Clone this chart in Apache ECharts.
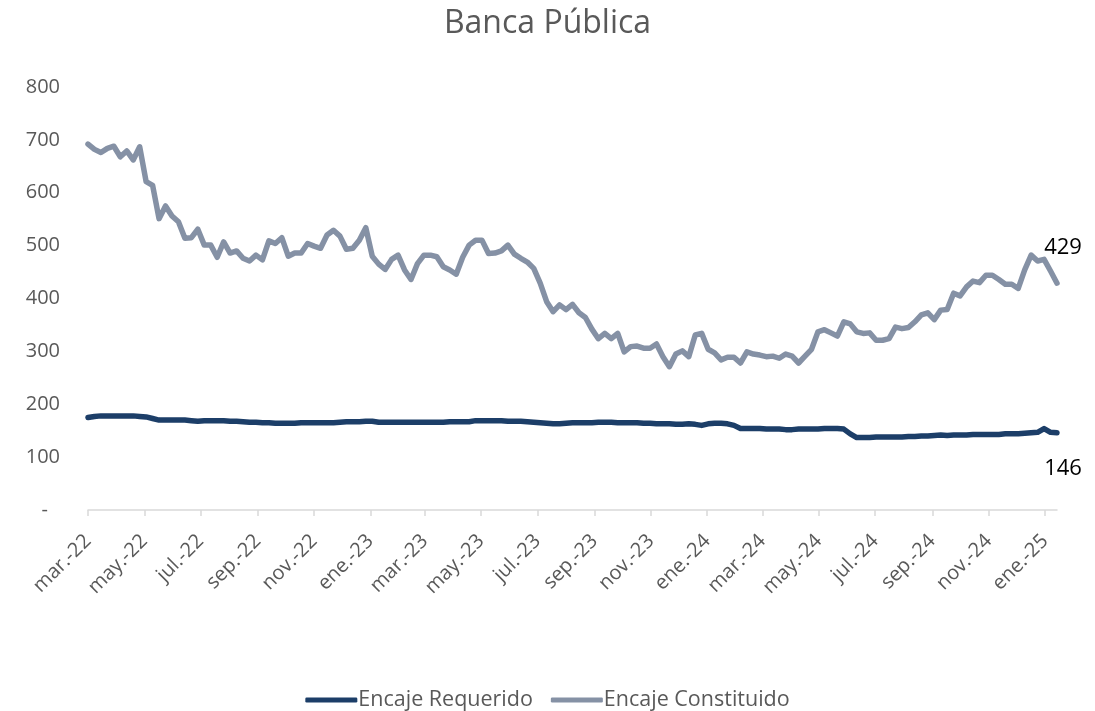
<!DOCTYPE html>
<html>
<head>
<meta charset="utf-8">
<script src="https://cdn.jsdelivr.net/npm/echarts@6/dist/echarts.min.js"></script>
<style>
  html, body { margin: 0; padding: 0; background: #ffffff; }
  #chart { width: 1095px; height: 711px; }
</style>
</head>
<body>
<div id="chart"></div>
<script>
// ---- Data ----
const titleText = 'Banca Pública';
const seriesNames = ['Encaje Requerido', 'Encaje Constituido'];
const startDate = '2022-03-01';   // first weekly observation
const weekCount = 151;            // weekly observations

const encajeRequerido = [
  175,177,178,178,178,178,178,178,177,176,
  173,170,170,170,170,170,169,168,169,169,
  169,169,168,168,167,166,166,165,165,164,
  164,164,164,165,165,165,165,165,165,166,
  167,167,167,168,168,166,166,166,166,166,
  166,166,166,166,166,166,167,167,167,167,
  169,169,169,169,169,168,168,168,167,166,
  165,164,163,163,164,165,165,165,165,166,
  166,166,165,165,165,165,164,164,163,163,
  163,162,162,163,162,160,163,164,164,163,
  160,154,154,154,154,153,153,153,152,152,
  153,153,153,153,154,154,154,153,144,137,
  137,137,138,138,138,138,138,139,139,140,
  140,141,142,141,142,142,142,143,143,143,
  143,143,144,144,144,145,146,147,154,147,
  146
];

const encajeConstituido = [
  692,682,676,684,688,668,679,662,687,621,
  614,551,575,556,545,514,515,531,501,501,
  478,507,486,490,476,471,482,473,509,504,
  515,480,486,486,504,499,495,520,529,518,
  493,495,510,534,480,465,
  455,474,482,454,436,466,482,482,479,460,
  454,446,478,501,510,510,485,486,490,501,
  484,476,469,457,429,394,375,388,379,389,
  373,364,342,324,334,324,334,299,309,310,
  306,306,314,
  290,271,295,301,290,331,334,304,297,284,
  289,289,278,299,295,293,290,291,287,295,
  291,278,291,304,
  337,341,335,329,356,352,337,334,335,321,
  321,324,346,343,345,356,369,373,360,378,
  379,410,405,422,433,430,444,444,436,427,
  427,419,454,482,471,474,452,429
];

const tickLabels = ['mar.-22','may.-22','jul.-22','sep.-22','nov.-22','ene.-23',
  'mar.-23','may.-23','jul.-23','sep.-23','nov.-23','ene.-24',
  'mar.-24','may.-24','jul.-24','sep.-24','nov.-24','ene.-25'];
const tickDates = ['2022-03-01','2022-05-01','2022-07-01','2022-09-01','2022-11-01','2023-01-01',
  '2023-03-01','2023-05-01','2023-07-01','2023-09-01','2023-11-01','2024-01-01',
  '2024-03-01','2024-05-01','2024-07-01','2024-09-01','2024-11-01','2025-01-01'];

const yTicks = [0,100,200,300,400,500,600,700,800];

// ---- Helpers ----
const DAY = 86400000;
const t0 = Date.parse(startDate + 'T00:00:00Z');
const dayOf = s => Math.round((Date.parse(s + 'T00:00:00Z') - t0) / DAY);
const dates = [];
for (let i = 0; i < weekCount; i++) {
  dates.push(new Date(t0 + i * 7 * DAY).toISOString().slice(0, 10));
}
const xDays = dates.map(dayOf);
const tickDays = tickDates.map(dayOf);
const labelByDay = {};
tickDays.forEach((d, i) => { labelByDay[d] = tickLabels[i]; });

const reqData = encajeRequerido.map((v, i) => [xDays[i], v]);
const conData = encajeConstituido.map((v, i) => [xDays[i], v]);

const grey = '#595959';
const font = '"Open Sans", sans-serif';

const chart = echarts.init(document.getElementById('chart'), null, { renderer: 'canvas' });
chart.setOption({
  animation: false,
  backgroundColor: '#ffffff',
  title: {
    text: titleText,
    left: 'center',
    top: 3,
    textStyle: { fontFamily: font, fontSize: 32, fontWeight: 'normal', color: grey }
  },
  legend: {
    data: seriesNames,
    top: 684,
    left: 'center',
    icon: 'roundRect',
    itemWidth: 52,
    itemHeight: 5,
    itemGap: 18,
    textStyle: { fontFamily: font, fontSize: 21.5, color: grey, padding: [0, 0, 0, -4] }
  },
  grid: { left: 88, right: 38, top: 87, bottom: 201, containLabel: false },
  xAxis: {
    type: 'value',
    min: 0,
    max: xDays[xDays.length - 1],
    axisLine: { show: true, lineStyle: { color: '#d9d9d9', width: 1.5 } },
    axisTick: { show: true, length: 6, lineStyle: { color: '#d9d9d9', width: 1.5 }, customValues: tickDays },
    splitLine: { show: false },
    axisLabel: {
      customValues: tickDays,
      rotate: 45,
      margin: 28,
      fontFamily: font,
      fontSize: 20,
      color: grey,
      formatter: v => labelByDay[v] || ''
    }
  },
  yAxis: {
    type: 'value',
    min: yTicks[0],
    max: yTicks[yTicks.length - 1],
    interval: 100,
    axisLine: { show: false },
    axisTick: { show: false },
    splitLine: { show: false },
    axisLabel: {
      margin: 28,
      fontFamily: font,
      fontSize: 20,
      color: grey,
      formatter: v => v === 0 ? '{d|-}' : String(v),
      rich: { d: { fontFamily: font, fontSize: 20, color: grey, padding: [0, 12, 0, 0] } }
    }
  },
  series: [
    {
      name: seriesNames[0],
      type: 'line',
      data: reqData,
      symbol: 'none',
      smooth: false,
      color: '#1c3e68',
      lineStyle: { color: '#1c3e68', width: 5.5, cap: 'round', join: 'round' },
      endLabel: {
        show: true,
        formatter: p => String(p.value[1]),
        align: 'center',
        verticalAlign: 'middle',
        offset: [-2, 36],
        fontFamily: font,
        fontSize: 22,
        color: '#000000'
      },
      z: 3
    },
    {
      name: seriesNames[1],
      type: 'line',
      data: conData,
      symbol: 'none',
      smooth: false,
      color: '#8591a5',
      lineStyle: { color: '#8591a5', width: 5.5, cap: 'round', join: 'round' },
      endLabel: {
        show: true,
        formatter: p => String(p.value[1]),
        align: 'center',
        verticalAlign: 'middle',
        offset: [-2, -35],
        fontFamily: font,
        fontSize: 22,
        color: '#000000'
      },
      z: 2
    }
  ]
});
</script>
</body>
</html>
